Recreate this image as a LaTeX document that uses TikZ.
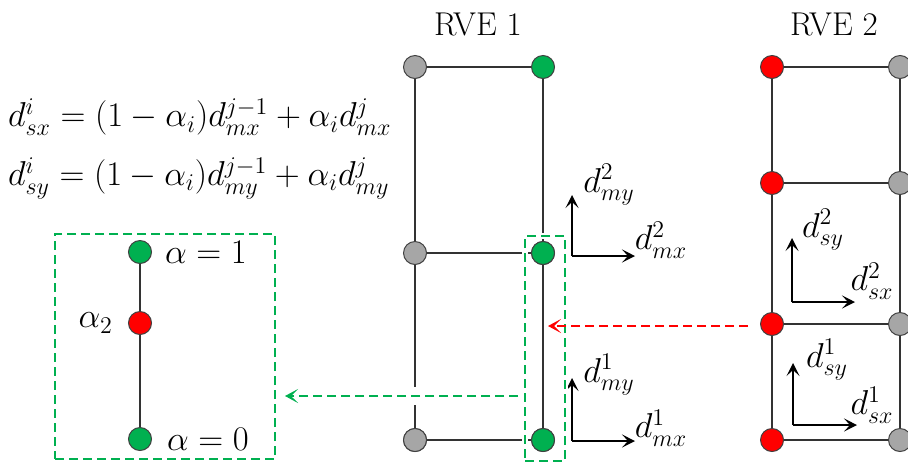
\documentclass[tikz,border=0pt]{standalone}
\usetikzlibrary{arrows.meta, positioning}

\definecolor{ptgreen}{RGB}{0,176,80}
\definecolor{ptgray}{RGB}{166,166,166}

\begin{document}
\begin{tikzpicture}[
    x=0.5pt, y=-0.5pt,
    pt/.style={circle, draw=black!75, line width=0.5pt, minimum size=11.5pt, inner sep=0pt},
    gpt/.style={pt, fill=ptgreen},
    rpt/.style={pt, fill=red},
    kpt/.style={pt, fill=ptgray},
    edge/.style={draw=black!80, line width=0.7pt},
    gbox/.style={draw=ptgreen, line width=1pt, dash pattern=on 4.5pt off 2.5pt,
        preaction={draw=white, solid, line width=3pt}},
    gdash/.style={gbox, -{Stealth[length=6.5pt, width=7pt, inset=3.5pt]},
        preaction={draw=white, solid, line width=9pt, -}},
    rdash/.style={draw=red, line width=1pt, dash pattern=on 4.5pt off 2.5pt,
        -{Stealth[length=6.5pt, width=7pt, inset=3.5pt]}},
    axis/.style={line width=0.7pt, -{Stealth[length=6.5pt, width=6.5pt, inset=3pt]}},
    lbl/.style={font=\fontsize{16.5}{20}\selectfont}
]
\useasboundingbox (0,0) rectangle (908,462);

% Interpolation formulas
\node[anchor=west, font=\LARGE] (eqx) at (1,117) {$d^i_{sx} = (1-\alpha_i)d^{j-1}_{mx} + \alpha_i d^j_{mx}$};
\node[anchor=west, font=\LARGE] (eqy) at (1,178) {$d^i_{sy} = (1-\alpha_i)d^{j-1}_{my} + \alpha_i d^j_{my}$};

% RVE 1
\node[lbl] (t1) at (478,24) {RVE 1};
\node[kpt] (a1) at (415,67) {};
\node[kpt] (a2) at (415,253) {};
\node[kpt] (a3) at (415,440) {};
\node[gpt] (b1) at (543,67) {};
\node[gpt] (b2) at (543,253) {};
\node[gpt] (b3) at (543,440) {};
\draw[edge] (a1) -- (b1);
\draw[edge] (a2) -- (b2);
\draw[edge] (a3) -- (b3);
\draw[edge] (a1) -- (a2) -- (a3);
\draw[edge] (b1) -- (b2) -- (b3);

% RVE 2
\node[lbl] (t2) at (834,24) {RVE 2};
\node[rpt] (c1) at (772,67) {};
\node[rpt] (c2) at (772,183) {};
\node[rpt] (c3) at (772,324) {};
\node[rpt] (c4) at (772,440) {};
\node[kpt] (d1) at (900,67) {};
\node[kpt] (d2) at (900,183) {};
\node[kpt] (d3) at (900,324) {};
\node[kpt] (d4) at (900,440) {};
\draw[edge] (c1) -- (d1);
\draw[edge] (c2) -- (d2);
\draw[edge] (c3) -- (d3);
\draw[edge] (c4) -- (d4);
\draw[edge] (c1) -- (c2) -- (c3) -- (c4);
\draw[edge] (d1) -- (d2) -- (d3) -- (d4);

% Master displacements
\coordinate (om2) at (572,256);
\coordinate (om1) at (572,441);
\draw[axis] (om2) -- ++(0,-61);
\draw[axis] (om2) -- ++(63,0);
\draw[axis] (om1) -- ++(0,-63);
\draw[axis] (om1) -- ++(63,0);
\node[lbl] (my2) at (609,185) {$d^2_{my}$};
\node[lbl] (mx2) at (661,240) {$d^2_{mx}$};
\node[lbl] (my1) at (609,375) {$d^1_{my}$};
\node[lbl] (mx1) at (661,428) {$d^1_{mx}$};

% Slave displacements
\coordinate (os2) at (792,302);
\coordinate (os1) at (793,425);
\draw[axis] (os2) -- ++(0,-64);
\draw[axis] (os2) -- ++(63,0);
\draw[axis] (os1) -- ++(0,-62);
\draw[axis] (os1) -- ++(64,0);
\node[lbl] (sy2) at (823,230) {$d^2_{sy}$};
\node[lbl] (sx2) at (872,281) {$d^2_{sx}$};
\node[lbl] (sy1) at (827,360) {$d^1_{sy}$};
\node[lbl] (sx1) at (872,405) {$d^1_{sx}$};

% Interface column of RVE 1
\node[gbox, minimum width=20pt, minimum height=112.5pt] (cbox) at (545,348.5) {};
\node[gpt] at (b2) {};
\node[gpt] at (b3) {};

% Zoomed interface
\node[gbox, minimum width=110pt, minimum height=112.5pt] (lbox) at (165,346.5) {};
\node[gpt] (e1) at (140,252) {};
\node[rpt] (e2) at (140,323) {};
\node[gpt] (e3) at (140,439) {};
\draw[edge] (e1) -- (e2) -- (e3);
\node[lbl, right=3pt of e1] (al1) {$\alpha = 1$};
\node[lbl, right=4pt of e3] (al0) {$\alpha = 0$};
\node[lbl, left=4pt of e2] (al2) {$\alpha_2$};

% Transfer arrows
\coordinate (rs) at (748,326);
\coordinate (re) at (548,326);
\coordinate (gs) at (518,396);
\coordinate (ge) at (285,396);
\draw[rdash] (rs) -- (re);
\draw[gdash] (gs) -- (ge);
\node[kpt] at (a3) {};

\end{tikzpicture}
\end{document}
